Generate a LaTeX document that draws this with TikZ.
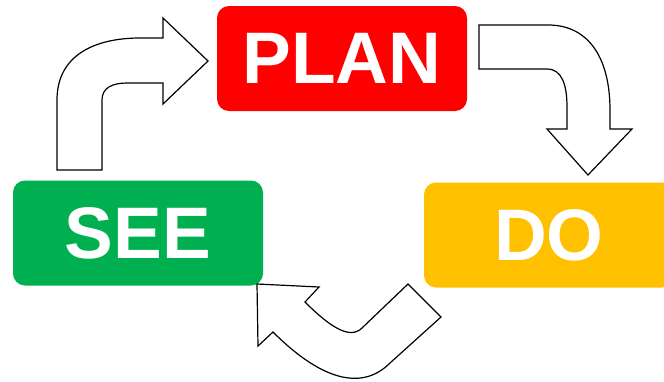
\documentclass[tikz,border=0pt]{standalone}
\usepackage{fontspec}
\setmainfont{Liberation Sans}
\definecolor{planred}{HTML}{FF0000}
\definecolor{seegreen}{HTML}{00B050}
\definecolor{doyellow}{HTML}{FFC000}

\begin{document}
\begin{tikzpicture}[
x=1pt, y=-1pt,
box/.style={rounded corners=12pt, minimum width=250pt, minimum height=105pt, inner sep=0pt, text=white, font=\fontsize{73}{73}\selectfont\bfseries},
blockarr/.style={draw, fill=white, line width=1.2pt, line join=miter}
]
\useasboundingbox (0,0) rectangle (664,381);
\clip (0,0) rectangle (664,381);

\node[box, fill=planred] (plan) at (342,58.5) {PLAN};
\node[box, fill=seegreen] (see) at (138,233) {SEE};
\node[box, fill=doyellow] (do) at (549,235) {DO};

% see -> plan
\draw[blockarr] (57,170) -- (57,100) .. controls (57,55) and (95,38) .. (140,38)
  -- (163,38) -- (163,18) -- (208,61) -- (163,104) -- (163,83) -- (127,83)
  .. controls (112,83) and (102,88) .. (102,100) -- (102,170) -- cycle;
% plan -> do
\draw[blockarr] (479,25) -- (548,25) .. controls (590,25) and (610,60) .. (610,110)
  -- (610,129) -- (632,129) -- (588,175) -- (547,129) -- (567,129) -- (567,107)
  .. controls (567,85) and (562,69) .. (547,69) -- (479,69) -- cycle;
% do -> see
\draw[blockarr] (257,284) -- (319,287) -- (305,302)
  .. controls (330,327) and (350,340) .. (362,328) -- (408,284) -- (441,317)
  -- (390,363) .. controls (360,393) and (318,377) .. (273,332)
  -- (258,346) -- cycle;
\end{tikzpicture}
\end{document}
